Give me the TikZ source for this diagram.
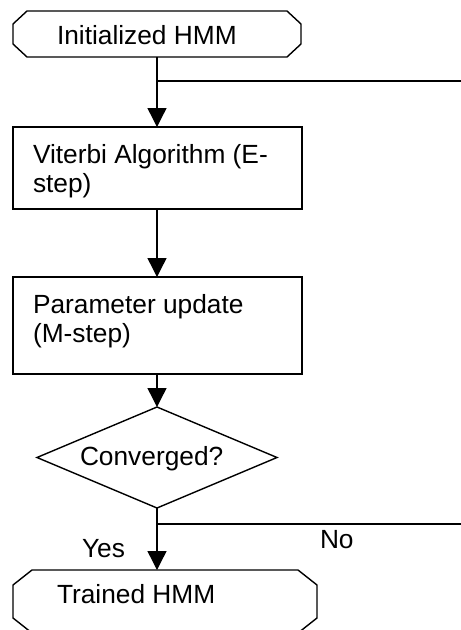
\documentclass[tikz,border=0pt]{standalone}
\usepackage{fontspec}
\setmainfont{Liberation Sans}
\usetikzlibrary{arrows.meta}

% outline with cut corners around a named node: #1 node, #2 horizontal cut, #3 vertical cut
\newcommand\chamferoutline[3]{%
  \draw ([xshift=#2]#1.north west) -- ([xshift=-#2]#1.north east)
     -- ([yshift=-#3]#1.north east) -- ([yshift=#3]#1.south east)
     -- ([xshift=-#2]#1.south east) -- ([xshift=#2]#1.south west)
     -- ([yshift=#3]#1.south west) -- ([yshift=-#3]#1.north west) -- cycle;}

\begin{document}
\begin{tikzpicture}[x=1pt,y=-1pt,
  line width=1.4pt,
  every node/.style={inner sep=0pt, outer sep=0pt},
  procbox/.style={draw, minimum width=289pt},
  txt/.style={anchor=base west, font=\fontsize{26.3}{30}\selectfont},
  flow/.style={-{Triangle[length=19pt,width=19pt]}},
]
\useasboundingbox (0,0) rectangle (461,630);
\clip (0,0) rectangle (461,630);

% shapes
\node[minimum width=288pt, minimum height=46pt] (init) at (157,34) {};
\chamferoutline{init}{14pt}{13pt}
\node[procbox, minimum height=82pt] (vit) at (157.5,168) {};
\node[procbox, minimum height=97pt] (upd) at (157.5,325.5) {};
\node[minimum width=240pt, minimum height=101pt] (conv) at (157,457.5) {};
\draw (conv.north) -- (conv.east) -- (conv.south) -- (conv.west) -- cycle;
\node[minimum width=304pt, minimum height=63pt] (done) at (165,601.5) {};
\chamferoutline{done}{19pt}{15pt}

% texts
\node[txt] (initt) at (57,44) {Initialized HMM};
\node[txt] (vitt1) at (33,163) {Viterbi Algorithm (E-};
\node[txt] (vitt2) at (33,192) {step)};
\node[txt] (updt1) at (33,313) {Parameter update};
\node[txt] (updt2) at (33,342) {(M-step)};
\node[txt] (convt) at (80,465) {Converged?};
\node[txt] (yes) at (82,557) {Yes};
\node[txt] (no) at (320,548) {No};
\node[txt] (donet) at (57,603) {Trained HMM};

% connectors
\coordinate (j1) at (157,81);
\coordinate (j1e) at (461,81);
\coordinate (j2) at (157,524);
\coordinate (j2e) at (461,524);
\draw[flow] (init.south) -- (init.south |- vit.north);
\draw (j1) -- (j1e);
\draw[flow] (vit.south -| init.south) -- (upd.north -| init.south);
\draw[flow] (upd.south -| conv.north) -- (conv.north);
\draw[flow] (conv.south) -- (conv.south |- done.north);
\draw (j2) -- (j2e);
\end{tikzpicture}
\end{document}
